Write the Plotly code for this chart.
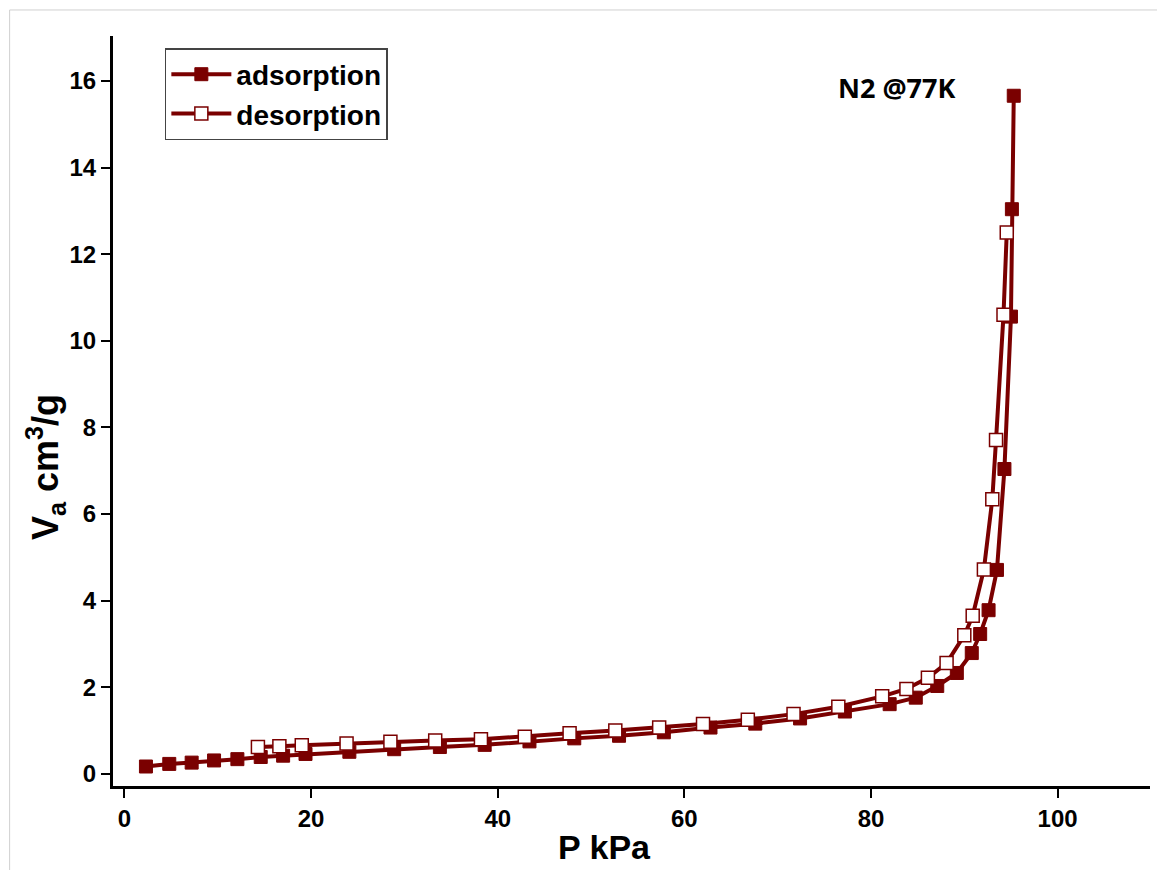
import plotly.graph_objects as go

# Adsorption branch (filled squares)
ads_p = [2.3, 4.8, 7.2, 9.6, 12.1, 14.6, 17.0, 19.4, 24.1, 28.9, 33.8, 38.6, 43.4,
         48.2, 53.0, 57.8, 62.8, 67.6, 72.4, 77.2, 82.0, 84.8, 87.1, 89.2, 90.8,
         91.7, 92.6, 93.5, 94.3, 95.0, 95.1, 95.3]
ads_v = [0.17, 0.23, 0.26, 0.31, 0.34, 0.39, 0.42, 0.46, 0.51, 0.57, 0.62, 0.67, 0.75,
         0.82, 0.88, 0.96, 1.07, 1.16, 1.28, 1.44, 1.61, 1.76, 2.03, 2.33, 2.79,
         3.23, 3.78, 4.71, 7.04, 10.56, 13.04, 15.66]

# Desorption branch (open squares)
des_p = [94.55, 94.2, 93.4, 93.0, 92.1, 90.9, 90.0, 88.1, 86.1, 83.8, 81.2, 76.5,
         71.7, 66.8, 62.0, 57.3, 52.6, 47.7, 42.9, 38.2, 33.3, 28.5, 23.8, 19.0,
         16.6, 14.3]
des_v = [12.5, 10.6, 7.71, 6.34, 4.72, 3.65, 3.20, 2.56, 2.22, 1.96, 1.79, 1.55,
         1.38, 1.25, 1.15, 1.07, 1.00, 0.94, 0.86, 0.80, 0.77, 0.74, 0.70, 0.66,
         0.64, 0.62]

x_ticks = [0, 20, 40, 60, 80, 100]
y_ticks = [0, 2, 4, 6, 8, 10, 12, 14, 16]

RED = "#7a0000"

fig = go.Figure()
fig.add_trace(go.Scatter(
    x=ads_p, y=ads_v, mode="lines+markers", name="<b>adsorption</b>",
    line=dict(color=RED, width=4),
    marker=dict(symbol="square", size=13, color=RED, line=dict(color=RED, width=1)),
))
fig.add_trace(go.Scatter(
    x=des_p, y=des_v, mode="lines+markers", name="<b>desorption</b>",
    line=dict(color=RED, width=4),
    marker=dict(symbol="square", size=13, color="white", line=dict(color=RED, width=1.5)),
))

fig.add_annotation(
    x=82.7, y=15.84, xref="x", yref="y", text="<b>N2 @77K</b>", showarrow=False,
    font=dict(family="Open Sans, Arial", size=27, color="black"),
)

# axis titles as annotations (positioned like the reference)
fig.add_annotation(
    xref="paper", yref="paper", x=(604 - 113) / 1037, y=(786 - 847) / 750,
    text="<b>P kPa</b>", showarrow=False, xanchor="center", yanchor="middle",
    font=dict(family="Arial", size=34, color="black"),
)
fig.add_annotation(
    xref="paper", yref="paper", x=(45 - 113) / 1037, y=(786 - 467) / 750,
    text="<b>V<sub>a</sub> cm<sup>3</sup>/g</b>", showarrow=False, textangle=-90,
    xanchor="center", yanchor="middle",
    font=dict(family="Arial", size=36, color="black"),
)

# light image border
fig.add_shape(type="rect", xref="paper", yref="paper",
              x0=-0.0997, x1=1.01, y0=-0.2, y1=1.0347,
              line=dict(color="#d0d0d0", width=1), layer="below")

fig.update_layout(
    width=1157, height=870,
    margin=dict(l=113, r=7, t=36, b=84),
    paper_bgcolor="white", plot_bgcolor="white",
    font=dict(family="Arial, Liberation Sans", color="black"),
    showlegend=True,
    legend=dict(
        x=0.05, y=0.984, xanchor="left", yanchor="top",
        bordercolor="#444444", borderwidth=1.5, bgcolor="white",
        font=dict(size=28, family="Arial", color="black"),
        itemwidth=60, tracegroupgap=0,
    ),
)
fig.update_xaxes(
    range=[-1.23, 109.9], tickvals=x_ticks, ticktext=[f"<b>{t}</b>" for t in x_ticks],
    showgrid=False, zeroline=False,
    showline=True, linecolor="black", linewidth=3,
    ticks="outside", ticklen=9, tickwidth=2, tickcolor="black",
    tickfont=dict(family="Liberation Sans Narrow, Arial Narrow, Arial", size=24, color="black"),
)
fig.update_yaxes(
    range=[-0.28, 17.04], tickvals=y_ticks, ticktext=[f"<b>{t}</b>" for t in y_ticks],
    showgrid=False, zeroline=False,
    showline=True, linecolor="black", linewidth=3,
    ticks="outside", ticklen=9, tickwidth=2, tickcolor="black",
    tickfont=dict(family="Arial", size=24, color="black"),
)

fig.write_html("out.html")
